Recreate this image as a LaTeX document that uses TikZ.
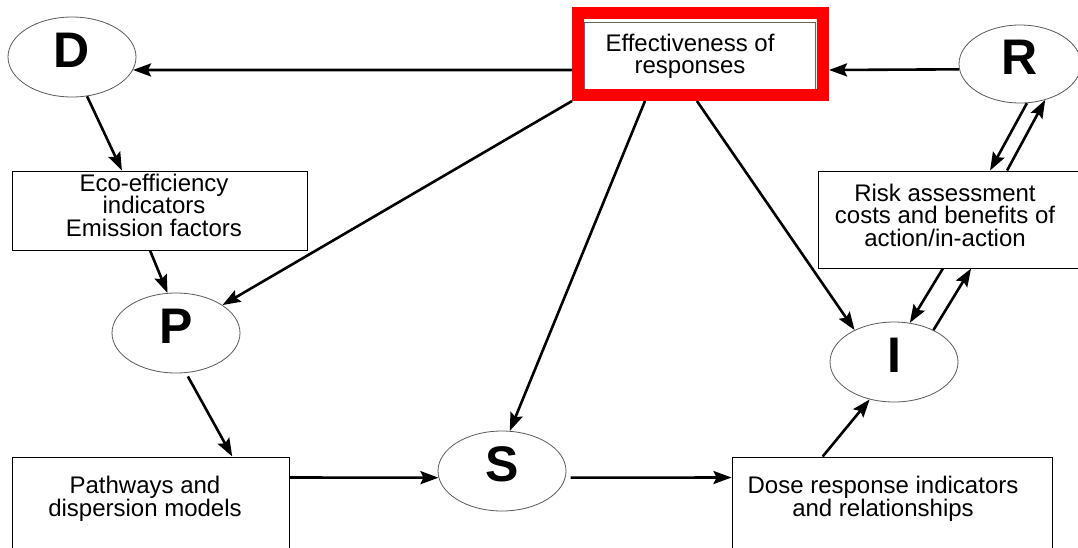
\documentclass[tikz,border=0pt]{standalone}
\usepackage{fontspec}
\setmainfont{Liberation Sans}
\usetikzlibrary{shapes.geometric,arrows.meta,calc}
\begin{document}
\begin{tikzpicture}[x=1pt,y=-1pt,
  ell/.style={ellipse,draw=black!65,line width=0.8pt,minimum width=128pt,minimum height=80pt,inner sep=0pt,font=\fontsize{50}{50}\selectfont\bfseries,text depth=14pt},
  box/.style={draw=black,line width=1pt,rectangle,inner sep=0pt},
  txt/.style={align=center,font=\fontsize{24}{22.5}\selectfont,inner sep=0pt},
  arr/.style={line width=2.6pt,-{Stealth[length=18pt,width=13pt,inset=3pt]}},
]
\useasboundingbox (0,0) rectangle (1078,547);
\clip (0,0) rectangle (1078,547);

% ellipses
\node[ell] (D) at (72,57) {D};
\node[ell] (P) at (176,333) {P};
\node[ell] (S) at (502,471) {S};
\node[ell] (I) at (894,362) {I};
\node[ell,minimum width=122pt,minimum height=78pt] (R) at (1020,64) {R};

% boxes
\node[box,minimum width=295pt,minimum height=79pt] (eco) at (159.5,210.5) {};
\node[txt] (ecot) at (154,205) {Eco-efficiency\\indicators\\Emission factors};

\node[box,minimum width=292pt,minimum height=97pt] (risk) at (964,219.5) {};
\node[txt] (riskt) at (945,215) {Risk assessment\\costs and benefits of\\action/in-action};

\node[box,minimum width=277pt,minimum height=143pt] (pw) at (150.5,528.5) {};
\node[txt] (pwt) at (145,499) {Pathways and\\dispersion models};

\node[box,minimum width=320pt,minimum height=143pt] (dose) at (892,528.5) {};
\node[txt] (doset) at (883,499) {Dose response indicators\\and relationships};

\node[box,draw=black!60,line width=0.8pt,minimum width=231pt,minimum height=69pt] (eff) at (699.5,56.5) {};
\node[txt] (efft) at (690,56.5) {Effectiveness of\\responses};
\node[rectangle,draw=red,line width=12pt,minimum width=245pt,minimum height=82pt,inner sep=0pt] (hl) at (700.5,54) {};

% connectors
\draw[arr] ([yshift=-16pt]hl.west) -- (D.-12);
\draw[arr] (R.185) -- ([yshift=-16pt]hl.east);
\draw[arr] (D.-69) -- ($(eco.north west)!0.373!(eco.north east)$);
\draw[arr] ($(eco.south west)!0.468!(eco.south east)$) -- (P.102);
\draw[arr] (hl.south west) -- (P.31);
\draw[arr] ($(hl.south west)!0.284!(hl.south east)$) -- (S.79);
\draw[arr] ($(hl.south west)!0.486!(hl.south east)$) -- (I.141);
\draw[arr] (R.-80) -- ($(risk.north west)!0.589!(risk.north east)$);
\draw[arr] ($(risk.north west)!0.647!(risk.north east)$) -- (R.-55);
\draw[arr] ($(risk.south west)!0.428!(risk.south east)$) -- (I.68);
\draw[arr] (I.39) -- ($(risk.south west)!0.524!(risk.south east)$);
\draw[arr] ($(dose.north west)!0.284!(dose.north east)$) -- (I.-123);
\draw[arr,shorten <=5pt] (S.-6) -- ([yshift=-21pt]dose.north west);
\draw[arr] ([yshift=-21pt]pw.north east) -- (S.186);
\draw[arr,shorten <=4pt] (P.-76) -- ($(pw.north west)!0.794!(pw.north east)$);
\end{tikzpicture}
\end{document}
